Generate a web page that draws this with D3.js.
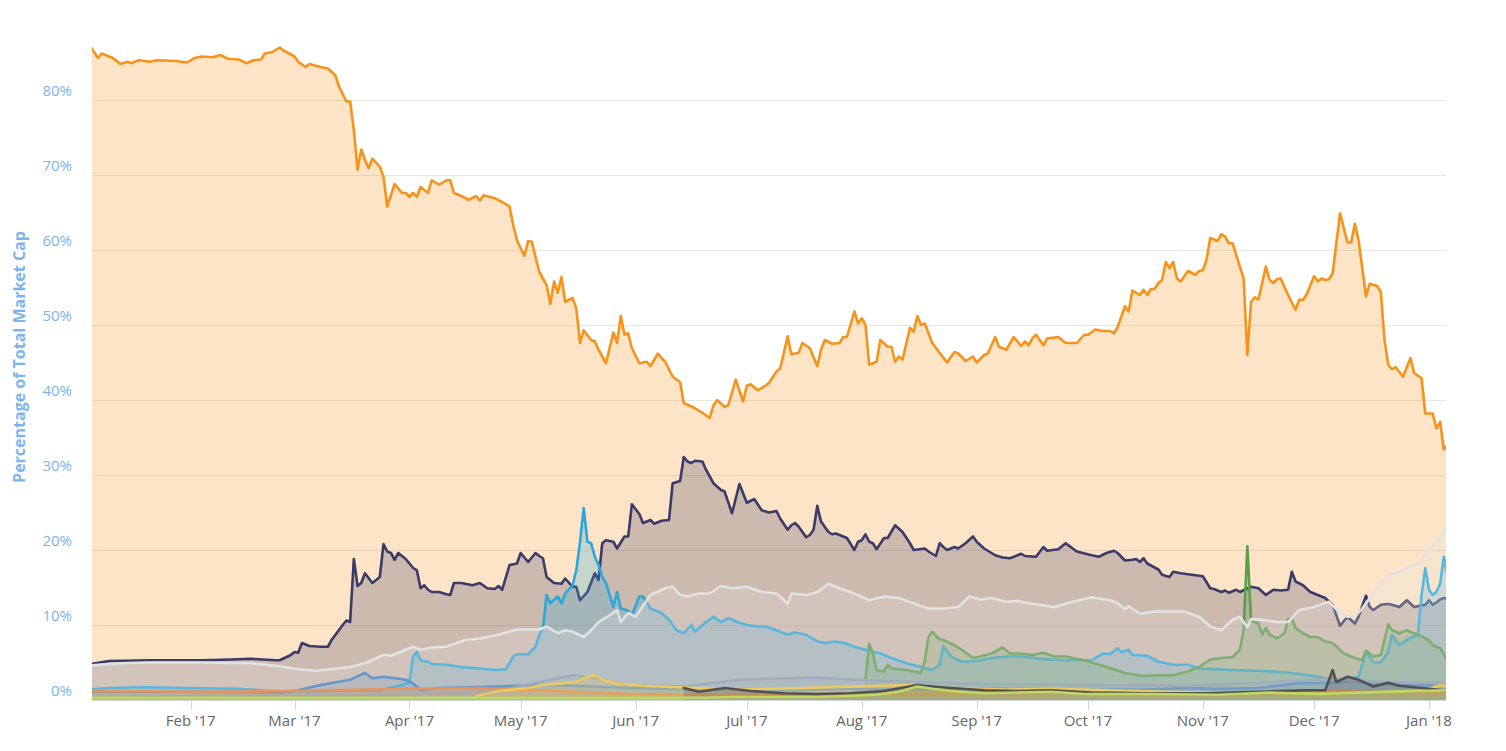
<!DOCTYPE html>
<html>
<head>
<meta charset="utf-8">
<script src="https://cdn.jsdelivr.net/npm/d3@7"></script>
<style>
  html, body { margin: 0; padding: 0; background: #fff; }
  svg { display: block; font-family: "Open Sans", "DejaVu Sans", sans-serif; }
</style>
</head>
<body>
<svg id="chart" width="1506" height="751"></svg>
<script>
// ---- DATA: [day of year 2017 (Jan 1 = 1), % of total market cap] ----
const yTicks = [0, 10, 20, 30, 40, 50, 60, 70, 80];

const bitcoin = [
[5,87.1],[7,85.6],[8,86.2],[11,85.6],[13,84.8],[15,85.1],[16,84.9],[18,85.3],[21,85.1],[23,85.3],[28,85.2],[31,85.0],[33,85.6],[35,85.8],[38,85.7],[40,86.0],[42,85.5],[45,85.4],[47,84.9],[49,85.3],[51,85.4],[52,86.2],[54,86.4],[56,87.0],[57,86.6],[60,85.8],[61,85.1],[63,84.4],[64,84.8],[67,84.4],[69,84.2],[71,83.3],[72,81.8],[74,79.8],[75,79.8],[76,76.0],[77,70.7],[78,73.4],[79,72.0],[80,70.9],[81,72.2],[83,71.1],[84,69.8],[85,65.8],[86,67.3],[87,68.8],[89,67.6],[90,67.6],[91,67.1],[92,67.6],[93,67.1],[94,68.4],[96,67.6],[97,69.3],[99,68.7],[101,69.3],[102,69.3],[103,67.6],[105,67.2],[107,66.7],[109,67.2],[110,66.6],[111,67.3],[114,66.9],[116,66.4],[118,65.8],[119,63.3],[120,61.3],[122,59.2],[123,61.2],[124,61.1],[126,57.1],[128,55.3],[129,52.8],[130,55.8],[131,54.3],[132,56.4],[133,53.1],[135,53.6],[136,52.2],[137,47.6],[138,49.3],[140,48.0],[141,47.8],[142,46.7],[144,44.9],[146,49.0],[147,47.6],[148,51.2],[149,48.7],[150,48.9],[151,46.9],[153,44.9],[155,45.1],[156,44.5],[158,46.2],[159,45.6],[160,45.1],[162,43.1],[164,42.4],[165,39.6],[168,38.9],[170,38.3],[172,37.6],[173,39.3],[174,40.0],[176,39.1],[177,39.3],[179,42.7],[181,39.8],[182,41.9],[183,42.1],[185,41.3],[187,41.9],[188,42.3],[190,43.8],[191,44.2],[193,48.5],[194,46.1],[196,46.3],[197,47.6],[199,46.9],[201,44.5],[202,46.7],[203,48.0],[205,47.5],[207,47.6],[208,48.4],[209,48.4],[211,51.8],[212,50.2],[213,50.9],[214,50.0],[215,44.7],[217,45.1],[218,48.0],[220,47.1],[221,47.1],[222,45.1],[223,45.8],[224,45.4],[226,49.6],[227,49.1],[228,51.2],[229,50.0],[230,50.2],[232,47.6],[236,45.0],[238,46.4],[239,46.2],[241,45.2],[243,45.8],[244,45.0],[246,46.0],[247,46.2],[249,48.4],[250,47.1],[252,46.7],[254,48.4],[256,47.2],[257,47.8],[258,47.3],[259,48.2],[260,48.7],[262,47.3],[263,48.2],[266,48.4],[268,47.6],[271,47.6],[273,48.7],[274,48.7],[276,49.4],[278,49.2],[280,49.2],[281,48.9],[282,49.7],[284,52.5],[285,51.8],[286,54.6],[288,54.0],[289,54.7],[290,54.0],[291,54.8],[292,54.8],[293,55.6],[294,56.0],[295,58.4],[296,57.6],[297,58.4],[298,56.2],[299,55.8],[301,57.2],[303,56.7],[304,57.2],[305,57.3],[306,58.7],[307,61.6],[309,61.2],[310,62.1],[311,61.8],[312,60.9],[313,60.9],[316,56.2],[317,46.0],[318,53.1],[319,53.7],[320,53.4],[322,57.8],[323,56.0],[324,55.6],[325,56.1],[326,56.2],[328,54.0],[330,52.0],[331,53.4],[332,53.3],[333,54.1],[335,56.5],[336,55.8],[337,56.2],[338,56.0],[339,56.1],[340,56.9],[342,64.9],[344,61.0],[345,61.0],[346,63.5],[347,61.3],[349,53.8],[350,55.5],[352,55.2],[353,54.4],[354,48.0],[355,44.7],[356,44.1],[357,44.4],[359,43.1],[361,45.6],[362,43.6],[364,42.9],[365,38.2],[367,38.2],[368,36.2],[369,37.1],[370,33.4],[371,34.0]
];

const ethereum = [
[5,4.8],[10,5.2],[21,5.3],[35,5.3],[43,5.4],[48,5.5],[55,5.3],[56,5.3],[59,6.0],[60,6.4],[61,6.3],[62,7.6],[64,7.2],[67,7.1],[69,7.1],[70,8.0],[73,10.0],[74,10.6],[75,10.4],[76,18.8],[77,15.2],[78,15.6],[79,16.9],[81,15.6],[83,16.4],[84,20.8],[85,19.8],[86,19.6],[87,18.7],[88,19.6],[90,18.8],[92,17.6],[93,17.3],[94,14.9],[95,15.3],[96,14.7],[97,14.4],[99,14.4],[101,14.1],[102,14.0],[103,15.6],[105,15.6],[108,15.3],[110,15.6],[112,14.9],[114,14.8],[115,15.2],[116,14.7],[118,18.0],[120,18.2],[121,19.6],[123,18.4],[125,19.6],[126,19.2],[127,18.9],[128,16.4],[130,15.6],[132,15.5],[133,16.2],[135,15.1],[136,15.1],[137,13.3],[139,14.4],[141,16.9],[142,16.0],[143,20.9],[144,21.3],[146,21.1],[147,20.2],[149,21.8],[150,21.8],[151,26.1],[153,24.8],[154,23.6],[156,24.0],[157,23.5],[159,23.9],[161,24.0],[162,28.9],[164,29.2],[165,32.4],[166,31.8],[167,31.6],[168,31.9],[170,31.8],[171,30.7],[173,28.9],[175,28.0],[176,27.8],[178,24.9],[180,28.8],[182,26.3],[184,26.8],[186,25.3],[188,25.0],[190,25.2],[191,24.2],[193,22.7],[194,23.3],[195,23.6],[196,23.1],[198,21.7],[199,22.0],[200,22.7],[201,25.9],[202,23.8],[204,22.4],[205,22.1],[206,22.2],[209,21.6],[211,20.0],[212,21.1],[213,21.3],[214,22.1],[215,21.1],[216,20.9],[217,20.1],[219,21.6],[220,21.6],[222,23.3],[224,22.4],[226,20.9],[227,20.0],[230,20.2],[231,19.8],[233,19.2],[234,20.9],[235,20.4],[236,20.0],[238,20.4],[239,20.2],[241,20.9],[243,21.8],[244,21.1],[246,20.2],[249,19.3],[251,19.0],[253,18.9],[256,19.5],[257,19.2],[260,19.1],[262,20.4],[263,19.9],[266,20.1],[268,20.9],[271,19.8],[275,19.3],[277,19.1],[279,19.6],[281,19.9],[282,19.6],[284,18.6],[286,18.7],[287,18.8],[288,18.4],[289,18.9],[290,18.2],[293,17.4],[294,16.7],[296,16.4],[297,17.1],[299,16.9],[302,16.7],[305,16.5],[307,14.9],[308,14.8],[310,14.4],[311,14.6],[312,14.3],[314,14.7],[315,14.4],[318,15.1],[320,14.9],[322,14.0],[324,14.7],[326,14.6],[328,14.7],[329,17.1],[330,15.8],[332,15.3],[334,14.4],[336,14.0],[338,13.6],[340,12.7],[342,9.9],[344,11.1],[346,10.2],[347,11.1],[349,13.9],[350,12.4],[351,12.0],[353,12.7],[355,12.8],[356,12.7],[358,12.4],[360,13.3],[362,12.4],[363,12.5],[365,12.7],[366,13.3],[367,12.7],[368,13.0],[369,13.4],[370,13.6],[371,13.5]
];

const ripple = [
[5,1.4],[10,1.6],[20,1.7],[30,1.6],[45,1.5],[56,1.1],[67,1.2],[83,1.3],[89,2.0],[91,2.4],[92,5.8],[93,6.4],[94,5.3],[96,5.1],[97,4.8],[101,4.7],[105,4.4],[110,4.2],[114,4.0],[117,4.1],[119,5.8],[120,6.1],[123,6.1],[125,7.1],[126,8.6],[127,9.6],[128,14.0],[129,12.9],[131,13.8],[132,12.9],[133,14.2],[135,15.3],[136,17.3],[137,21.0],[138,25.6],[139,21.1],[140,20.9],[141,19.1],[142,18.0],[143,16.4],[144,15.6],[146,12.4],[147,14.4],[148,12.2],[150,11.9],[151,11.3],[153,13.8],[154,13.8],[156,12.2],[159,11.6],[161,10.7],[163,9.3],[165,8.9],[167,10.0],[168,9.1],[171,10.4],[173,11.1],[175,10.4],[177,10.9],[180,10.3],[182,10.0],[185,9.8],[187,9.8],[190,9.3],[193,8.7],[195,9.0],[198,8.7],[201,7.8],[203,7.6],[206,7.8],[209,7.5],[211,7.1],[214,6.7],[218,6.2],[221,5.6],[225,4.9],[229,4.4],[232,4.0],[234,4.7],[235,7.2],[237,5.8],[240,5.1],[244,5.2],[248,5.6],[252,5.8],[256,5.8],[261,5.5],[268,5.3],[275,5.3],[278,6.2],[280,6.1],[282,6.9],[283,6.4],[285,6.7],[286,6.0],[290,5.9],[293,5.1],[297,4.7],[301,4.7],[304,4.2],[309,4.1],[313,4.0],[319,3.9],[324,3.8],[329,3.6],[335,3.2],[339,2.8],[344,2.8],[347,3.1],[349,6.4],[351,5.0],[353,5.0],[355,6.4],[356,8.7],[358,7.3],[360,8.0],[363,8.7],[364,14.0],[365,17.6],[366,14.7],[367,14.0],[368,14.4],[369,15.5],[370,19.1],[371,16.4]
];

const bitcoinCash = [
[214,2.7],[215,7.5],[216,6.2],[217,4.0],[219,3.8],[220,4.7],[221,4.2],[223,4.1],[225,4.0],[229,3.6],[230,5.3],[231,8.4],[232,9.1],[234,8.1],[235,8.0],[238,7.3],[240,6.7],[243,5.6],[245,5.8],[248,6.2],[251,7.0],[253,6.2],[256,6.2],[259,6.0],[262,6.3],[265,5.8],[268,5.8],[273,5.3],[279,4.4],[284,3.6],[289,3.2],[293,3.3],[297,3.3],[301,3.8],[304,4.4],[307,5.4],[310,5.6],[313,5.7],[315,6.7],[316,9.3],[317,20.5],[318,10.6],[319,10.4],[320,10.2],[321,8.7],[322,9.6],[323,8.7],[325,8.2],[327,8.9],[328,10.7],[329,10.9],[330,9.6],[332,8.9],[334,8.4],[336,8.4],[338,7.8],[340,7.6],[343,6.2],[346,5.6],[348,5.3],[349,6.6],[351,5.8],[353,6.0],[355,10.1],[356,9.3],[358,8.9],[360,9.3],[363,8.7],[366,8.0],[367,7.3],[369,6.9],[371,5.3]
];

const litecoin = [
[5,1.1],[30,1.1],[56,1.0],[61,1.3],[67,2.0],[75,2.7],[79,3.6],[81,2.9],[84,3.1],[90,2.7],[92,2.2],[94,1.3],[99,1.6],[115,1.8],[126,2.0],[135,1.9],[150,1.6],[170,1.4],[190,1.3],[210,1.5],[230,1.4],[250,1.5],[270,1.4],[290,1.4],[300,1.6],[310,1.5],[320,1.6],[330,2.2],[340,2.3],[345,2.6],[350,2.2],[360,2.0],[371,1.9]
];

const dash = [
[5,0.4],[60,0.5],[90,0.7],[115,1.2],[128,2.6],[135,3.3],[140,3.0],[150,2.0],[165,1.8],[180,2.7],[200,3.0],[215,2.6],[240,2.2],[270,2.0],[300,1.9],[320,2.3],[340,2.8],[355,2.4],[371,2.3]
];

const monero = [
[5,1.2],[40,1.1],[60,1.2],[90,1.5],[110,1.6],[130,1.2],[150,0.8],[170,0.7],[200,0.8],[250,0.9],[300,1.0],[330,1.0],[340,1.2],[350,1.1],[371,0.9]
];

const nem = [
[109,0.5],[115,1.2],[123,1.6],[127,2.0],[136,2.4],[139,3.1],[141,3.3],[143,2.7],[147,2.2],[154,1.9],[163,1.7],[180,1.4],[198,1.6],[211,1.8],[225,2.0],[234,1.6],[252,1.4],[265,1.5],[280,1.3],[295,1.1],[310,1.0],[330,0.9],[350,1.0],[365,1.3],[369,2.0],[371,1.8]
];

const iota = [
[165,1.6],[169,1.1],[176,1.6],[183,1.2],[192,0.9],[201,0.8],[210,0.9],[219,1.2],[228,2.0],[232,1.8],[237,1.6],[246,1.3],[255,1.2],[264,1.3],[275,1.0],[290,0.9],[305,0.9],[320,1.1],[333,1.3],[338,1.3],[340,4.0],[341,2.4],[344,3.1],[347,2.7],[351,1.8],[355,2.3],[358,1.9],[364,1.6],[370,1.3],[371,1.4]
];

const ethereumClassic = [
[5,0.3],[60,0.3],[120,0.3],[171,0.3],[178,0.4],[201,0.4],[217,0.7],[223,1.1],[228,1.8],[232,1.5],[237,1.2],[246,0.9],[264,1.1],[273,0.8],[291,0.8],[309,0.7],[323,1.0],[336,0.8],[354,1.1],[371,1.3]
];

const others = [
[5,4.6],[13,4.9],[21,5.0],[35,5.0],[48,4.9],[56,4.5],[61,4.1],[66,3.9],[70,4.1],[75,4.4],[79,4.9],[84,6.0],[86,5.9],[92,7.1],[94,6.7],[97,7.0],[101,7.1],[106,8.0],[110,8.2],[115,8.7],[120,9.4],[126,9.4],[128,9.8],[131,8.9],[133,9.3],[135,9.1],[138,8.4],[140,9.3],[142,10.4],[145,11.3],[147,12.0],[148,10.4],[150,11.6],[152,11.1],[156,14.0],[160,14.9],[162,15.1],[164,14.0],[166,13.8],[169,14.2],[172,14.2],[175,15.2],[178,14.9],[182,15.1],[186,14.4],[190,14.2],[191,13.8],[193,12.8],[194,14.2],[198,14.0],[201,14.4],[204,15.5],[208,14.7],[212,14.0],[215,13.3],[219,13.8],[223,13.6],[228,12.7],[231,12.2],[235,12.2],[239,12.4],[242,13.8],[245,13.4],[248,13.6],[252,13.1],[255,13.2],[258,12.9],[265,12.4],[270,13.1],[275,13.7],[280,13.3],[282,12.9],[284,12.1],[285,12.5],[288,11.5],[292,11.8],[296,11.8],[300,11.8],[304,11.1],[307,9.8],[310,9.3],[313,10.7],[315,11.1],[317,9.7],[318,10.8],[321,10.7],[325,10.4],[328,10.4],[331,12.0],[335,12.4],[339,13.1],[342,11.6],[344,11.1],[346,11.1],[348,12.2],[350,13.6],[353,15.6],[355,16.7],[358,17.1],[361,17.8],[363,18.2],[366,20.0],[369,21.6],[371,23.1]
];

// drawing order (later drawn on top) and colours
const seriesList = [
  { name: "Bitcoin", data: bitcoin, color: "#f7931a" },
  { name: "Ethereum", data: ethereum, color: "#3b3a68" },
  { name: "Ripple", data: ripple, color: "#2aa8dc" },
  { name: "Bitcoin Cash", data: bitcoinCash, color: "#5c9e4a" },
  { name: "Litecoin", data: litecoin, color: "#3a7fc1" },
  { name: "Dash", data: dash, color: "#8a9bad" },
  { name: "Monero", data: monero, color: "#e8792c" },
  { name: "NEM", data: nem, color: "#f1c232" },
  { name: "IOTA", data: iota, color: "#222222" },
  { name: "Ethereum Classic", data: ethereumClassic, color: "#b5d334" },
  { name: "Others", data: others, color: "#e2e2e2" }
];

// ---- CHART ----
const svg = d3.select("#chart");
const left = 92, right = 1446, bottom = 700;
const dayToDate = d => new Date(2017, 0, d);

const x = d3.scaleTime()
  .domain([new Date(2017, 0, 5, 9), new Date(2018, 0, 5, 14)])
  .range([left, right]);
const y = d3.scaleLinear().domain([0, 80]).range([bottom, 100]);

svg.append("defs").append("clipPath").attr("id", "plotClip")
  .append("rect").attr("x", left).attr("y", 0).attr("width", right - left).attr("height", bottom);

// gridlines
svg.append("g").selectAll("line").data(yTicks).join("line")
  .attr("x1", left).attr("x2", right)
  .attr("y1", d => Math.round(y(d)) + 0.5).attr("y2", d => Math.round(y(d)) + 0.5)
  .attr("stroke", "#e6e6e6").attr("stroke-width", 1);

// y labels
svg.append("g").selectAll("text").data(yTicks).join("text")
  .attr("x", 72).attr("y", d => y(d) - 4)
  .attr("text-anchor", "end")
  .attr("font-size", 15)
  .attr("fill", "#7cb5ec")
  .text(d => d + "%");

// y title
svg.append("text")
  .attr("transform", "translate(19,357) rotate(-90)")
  .attr("text-anchor", "middle")
  .attr("dominant-baseline", "central")
  .attr("font-size", 16).attr("font-weight", "bold")
  .attr("fill", "#7cb5ec")
  .text("Percentage of Total Market Cap");

// x axis line
svg.append("line").attr("x1", left).attr("x2", right)
  .attr("y1", bottom + 0.5).attr("y2", bottom + 0.5)
  .attr("stroke", "#ccd6eb");

// series
const plot = svg.append("g").attr("clip-path", "url(#plotClip)");
const area = d3.area().x(d => x(dayToDate(d[0]))).y0(y(0)).y1(d => y(d[1]));
const line = d3.line().x(d => x(dayToDate(d[0]))).y(d => y(d[1]));

seriesList.forEach(s => {
  const g = plot.append("g").attr("class", "series");
  g.append("path").datum(s.data).attr("d", area)
    .attr("fill", s.color).attr("fill-opacity", 0.25);
  g.append("path").datum(s.data).attr("d", line)
    .attr("fill", "none").attr("stroke", s.color)
    .attr("stroke-width", 2.6).attr("stroke-linejoin", "round").attr("stroke-linecap", "round");
});

// x ticks and labels
const xTicks = d3.timeMonth.range(new Date(2017, 1, 1), new Date(2018, 0, 2));
const fmt = d3.timeFormat("%b '%y");
const xg = svg.append("g");
xg.selectAll("line").data(xTicks).join("line")
  .attr("x1", d => Math.round(x(d)) + 0.5).attr("x2", d => Math.round(x(d)) + 0.5)
  .attr("y1", bottom).attr("y2", bottom + 10)
  .attr("stroke", "#ccd6eb");
xg.selectAll("text").data(xTicks).join("text")
  .attr("x", d => x(d)).attr("y", 726)
  .attr("text-anchor", "middle")
  .attr("font-size", 15).attr("fill", "#666666")
  .text(d => fmt(d));
</script>
</body>
</html>
